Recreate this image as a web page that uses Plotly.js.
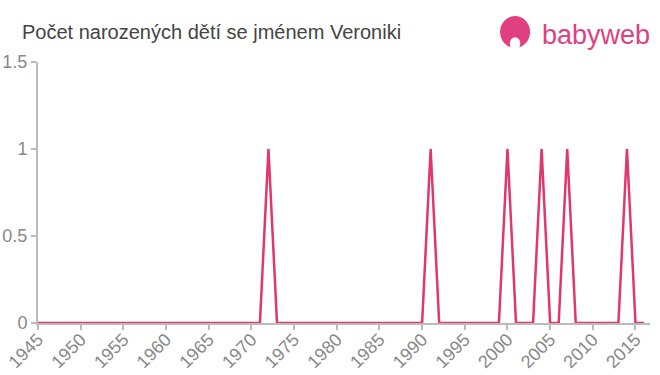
<!DOCTYPE html>
<html><head><meta charset="utf-8">
<script src="https://cdn.plot.ly/plotly-3.0.1.min.js"></script>
<style>html,body{margin:0;padding:0;background:#fff}#chart{width:660px;height:375px}</style>
</head><body><div id="chart"></div>
<script>
var years = [];
for (var y = 1945; y <= 2016; y++) years.push(y);
var spikeYears = [1972, 1991, 2000, 2004, 2007, 2014];
var counts = years.map(function(y){ return spikeYears.indexOf(y) >= 0 ? 1 : 0; });
var xTicks = [1945,1950,1955,1960,1965,1970,1975,1980,1985,1990,1995,2000,2005,2010,2015];
var yTicks = [0, 0.5, 1, 1.5];
var yTickText = ['0', '0.5', '1', '1.5'];

var trace = {x: years, y: counts, type: 'scatter', mode: 'lines',
  line: {color: '#e0376c', width: 2.5}, hoverinfo: 'x+y'};

var layout = {
  width: 660, height: 375,
  margin: {l: 38, r: 10, t: 62, b: 52},
  paper_bgcolor: '#fff', plot_bgcolor: '#fff',
  showlegend: false,
  font: {family: 'Liberation Sans, Arial, sans-serif', color: '#888'},
  xaxis: {range: [1945, 2016.7], tickvals: xTicks, ticktext: xTicks.map(String),
    tickangle: -45, tickfont: {size: 18, color: '#888'}, showgrid: false, zeroline: false,
    showline: true, linecolor: '#bbb', linewidth: 2, ticks: 'outside', ticklen: 5,
    tickcolor: '#bbb', tickwidth: 2, ticklabelstandoff: -8},
  yaxis: {range: [0, 1.5], tickvals: yTicks, ticktext: yTickText,
    tickfont: {size: 18, color: '#888'}, showgrid: false, zeroline: false,
    showline: true, linecolor: '#bbb', linewidth: 2, ticks: 'outside', ticklen: 5,
    tickcolor: '#bbb', tickwidth: 2},
  annotations: [
    {text: 'Počet narozených dětí se jménem Veroniki', xref: 'paper', yref: 'paper',
     x: -0.029, y: 1.115, xanchor: 'left', yanchor: 'middle', showarrow: false,
     font: {size: 20, color: '#444', family: 'Liberation Sans, Arial, sans-serif'}},
    {text: 'babyweb', xref: 'paper', yref: 'paper', x: 1.003, y: 1.103,
     xanchor: 'right', yanchor: 'middle', showarrow: false,
     font: {size: 27, color: '#e0407f', family: 'Liberation Sans, Arial, sans-serif'}}
  ],
  shapes: [
    {type: 'circle', xref: 'paper', yref: 'paper', x0: 0.755, x1: 0.804, y0: 1.054, y1: 1.176,
     fillcolor: '#e0407f', line: {width: 0}},
    {type: 'circle', xref: 'paper', yref: 'paper', x0: 0.771, x1: 0.788, y0: 1.046, y1: 1.095,
     fillcolor: '#fff', line: {width: 0}}
  ]
};
Plotly.newPlot('chart', [trace], layout, {displayModeBar: false, staticPlot: true});
</script></body></html>
